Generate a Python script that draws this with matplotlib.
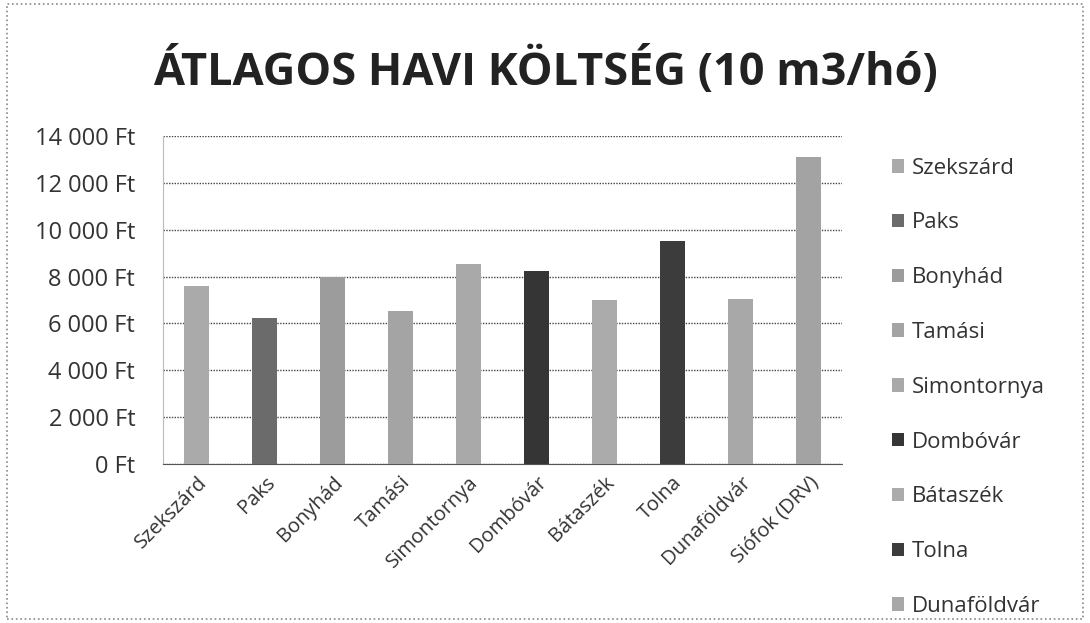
import matplotlib.pyplot as plt
from matplotlib.patches import Patch, Rectangle

plt.rcParams['font.family'] = ['Open Sans', 'DejaVu Sans']

towns = ['Szekszárd', 'Paks', 'Bonyhád', 'Tamási', 'Simontornya',
         'Dombóvár', 'Bátaszék', 'Tolna', 'Dunaföldvár', 'Siófok (DRV)']
cost = [7600, 6250, 8000, 6550, 8550, 8250, 7000, 9500, 7050, 13100]
shades = ['#aaaaaa', '#6b6b6b', '#9c9c9c', '#a4a4a4', '#a9a9a9',
          '#353535', '#ababab', '#3c3c3c', '#a8a8a8', '#a3a3a3']
yticks = [0, 2000, 4000, 6000, 8000, 10000, 12000, 14000]


def ft(v):
    return '{:,}'.format(v).replace(',', ' ') + ' Ft'


fig = plt.figure(figsize=(10.9, 6.23), dpi=100)
fig.patches.append(Rectangle((0.006, 0.006), 0.988, 0.988, transform=fig.transFigure,
                             fill=False, edgecolor='#888888', linewidth=1.2, linestyle=':'))

ax = fig.add_axes([0.1495, 0.2552, 0.623, 0.5265])
x = range(len(towns))
ax.bar(x, cost, width=0.37, color=shades, zorder=3)

ax.set_ylim(0, 14000)
ax.set_xlim(-0.5, len(towns) - 0.5)
ax.set_yticks(yticks)
ax.set_yticklabels([ft(v) for v in yticks], fontsize=17, color='#333333')
ax.set_xticks(list(x))
ax.set_xticklabels(towns, rotation=45, ha='right', rotation_mode='anchor',
                   fontsize=14.5, color='#333333')
ax.tick_params(axis='y', length=0, pad=20)
ax.tick_params(axis='x', length=0, pad=6)
ax.grid(axis='y', linestyle=(0, (1, 1)), color='#444444', linewidth=1, zorder=0)
for s in ['top', 'right']:
    ax.spines[s].set_visible(False)
ax.spines['left'].set_color('#bbbbbb')
ax.spines['bottom'].set_color('#555555')
ax.spines['bottom'].set_linestyle((0, (1, 1)))

fig.text(0.5, 0.885, 'ÁTLAGOS HAVI KÖLTSÉG (10 m3/hó)', ha='center', va='center',
         fontsize=32.5, fontweight='bold', color='#222222')

handles = [Patch(facecolor=shades[i], edgecolor='none', label=towns[i]) for i in range(9)]
fig.legend(handles=handles, loc='upper left', bbox_to_anchor=(0.80, 0.779),
           frameon=False, fontsize=16, labelspacing=1.52, handlelength=0.55,
           handleheight=0.55, handletextpad=0.35, labelcolor='#333333')

fig.savefig('out.png', dpi=100)
